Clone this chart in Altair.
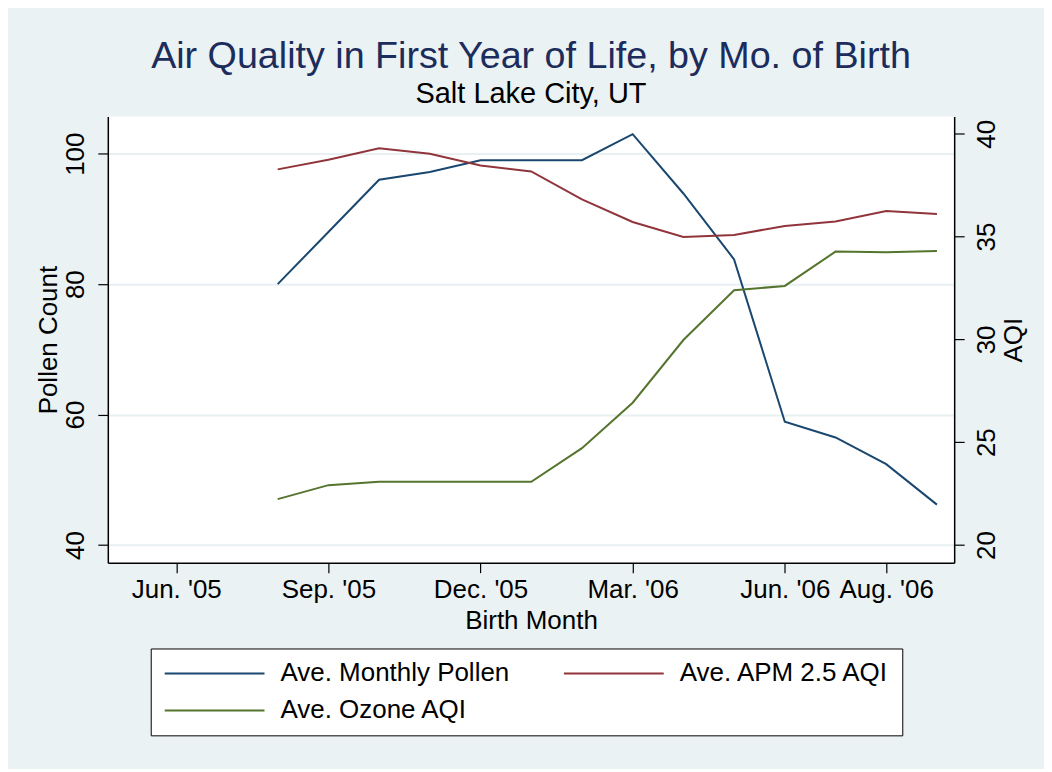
import json
import altair as alt
import pandas as pd

# ---- data ----
month_index = [2, 3, 4, 5, 6, 7, 8, 9, 10, 11, 12, 13, 14, 15]  # Jun '05 = 0
pollen = [80.0, 88.0, 96.0, 97.2, 99.0, 99.0, 99.0, 103.0, 93.9, 83.8, 58.9, 56.5, 52.4, 46.2]
apm25 = [38.27, 38.74, 39.30, 39.03, 38.46, 38.17, 36.81, 35.71, 34.98, 35.08, 35.52, 35.73, 36.24, 36.10]
ozone = [22.23, 22.91, 23.07, 23.07, 23.07, 23.07, 24.71, 26.92, 29.97, 32.39, 32.60, 34.27, 34.24, 34.30]

series_names = ["Ave. Monthly Pollen", "Ave. APM 2.5 AQI", "Ave. Ozone AQI"]
series_colors = ["#1a476f", "#90353b", "#55752f"]

tick_values = [0, 3, 6, 9, 12, 14]
tick_labels = ["Jun. '05", "Sep. '05", "Dec. '05", "Mar. '06", "Jun. '06", "Aug. '06"]

left_ticks = [40, 60, 80, 100]
right_ticks = [20, 25, 30, 35, 40]

# ---- tables ----
left_df = pd.DataFrame({"m": month_index, "v": pollen, "s": series_names[0]})
right_df = pd.concat([
    pd.DataFrame({"m": month_index, "v": apm25, "s": series_names[1]}),
    pd.DataFrame({"m": month_index, "v": ozone, "s": series_names[2]}),
])

FONT = "Liberation Sans"
label_expr = "[" + ",".join(json.dumps(l) for l in tick_labels) + "][indexof(" + json.dumps(tick_values) + ", datum.value)]"

x_enc = alt.X(
    "m:Q",
    scale=alt.Scale(domain=[-1.35, 15.34], nice=False, zero=False),
    axis=alt.Axis(
        values=tick_values, labelExpr=label_expr, title="Birth Month",
        grid=False, labelOverlap=False, labelFlush=False, labelBound=False,
        tickSize=10, labelPadding=4, titlePadding=5,
    ),
)

color_enc = alt.Color(
    "s:N",
    scale=alt.Scale(domain=series_names, range=series_colors),
    legend=alt.Legend(
        title=None, orient="none", legendX=43, legendY=533,
        direction="horizontal", columns=2, columnPadding=50, rowPadding=11, padding=12,
        symbolType="M-5,0H5", symbolSize=400, symbolStrokeWidth=2,
        symbolOffset=39, labelOffset=53,
        labelFontSize=26, labelFont=FONT, labelColor="black",
        strokeColor="black", fillColor="white", labelLimit=400,
    ),
)

left = alt.Chart(left_df).mark_line(strokeWidth=2).encode(
    x=x_enc,
    y=alt.Y(
        "v:Q",
        scale=alt.Scale(domain=[37.3, 105.7], nice=False, zero=False),
        axis=alt.Axis(
            orient="left", values=left_ticks, title="Pollen Count",
            grid=True, gridColor="#e8f0f2", gridWidth=2,
            labelAngle=270, labelAlign="center", labelBaseline="bottom",
            tickSize=10, labelPadding=9, titlePadding=1,
        ),
    ),
    color=color_enc,
)

right = alt.Chart(right_df).mark_line(strokeWidth=2).encode(
    x=x_enc,
    y=alt.Y(
        "v:Q",
        scale=alt.Scale(domain=[19.14, 40.84], nice=False, zero=False),
        axis=alt.Axis(
            orient="right", values=right_ticks, title="AQI", grid=False,
            labelAngle=270, labelAlign="center", labelBaseline="top",
            titleAngle=270, titleBaseline="top",
            tickSize=10, labelPadding=9, titlePadding=1,
        ),
    ),
    color=color_enc,
)

chart = alt.layer(left, right).resolve_scale(y="independent").properties(
    width=848,
    height=447,
    autosize=alt.AutoSizeParams(type="none"),
    padding={"left": 100, "top": 108, "right": 90, "bottom": 206},
    background="#eaf2f3",
    title=alt.TitleParams(
        text="Air Quality in First Year of Life, by Mo. of Birth",
        subtitle="Salt Lake City, UT",
        anchor="middle", font=FONT, fontSize=37.75, fontWeight="normal",
        color="#1c2c5c", subtitleFont=FONT, subtitleFontSize=29,
        subtitleColor="black", subtitlePadding=4, offset=8,
    ),
).configure_view(
    fill="white", stroke=None,
).configure_axis(
    labelFont=FONT, titleFont=FONT, labelFontSize=26, titleFontSize=26,
    titleFontWeight="normal", labelColor="black", titleColor="black",
    domainColor="black", tickColor="black", domainWidth=1.5, tickWidth=1.2,
)

chart.save("out.html", embed_options={"renderer": "svg", "actions": False})
